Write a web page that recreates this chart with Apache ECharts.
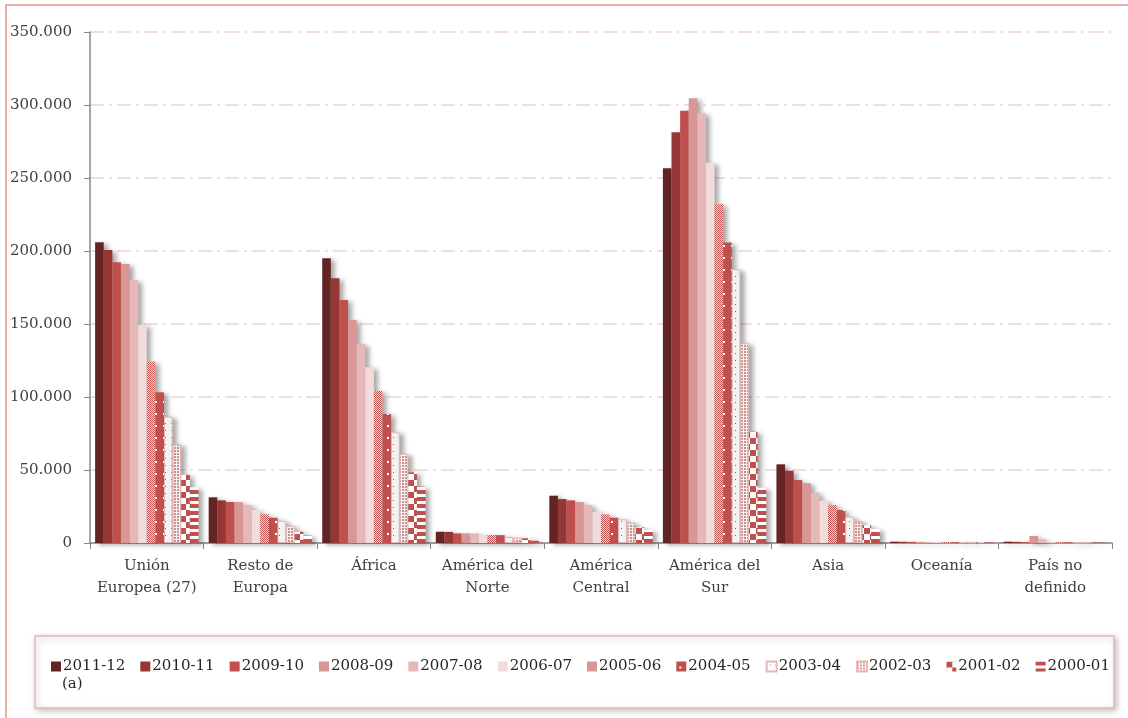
<!DOCTYPE html>
<html>
<head>
<meta charset="utf-8">
<script src="https://cdn.jsdelivr.net/npm/echarts@6/dist/echarts.min.js"></script>
<style>
  html, body { margin: 0; padding: 0; background: #fff; }
  #chart { width: 1128px; height: 718px; }
</style>
</head>
<body>
<div id="chart"></div>
<script>
  // categorias (regiones de origen)
  var categories = ["Unión\nEuropea (27)", "Resto de\nEuropa", "África", "América del\nNorte", "América\nCentral", "América del\nSur", "Asia", "Oceanía", "País no\ndefinido"];
  var seasons = ["2011-12", "2010-11", "2009-10", "2008-09", "2007-08", "2006-07", "2005-06", "2004-05", "2003-04", "2002-03", "2001-02", "2000-01"];
  var yTicks = [0, 50000, 100000, 150000, 200000, 250000, 300000, 350000];

  // valores por curso, en el orden de categories
  var v2011_12 = [206000, 31300, 195000, 7700, 32400, 256600, 53900, 900, 900];
  var v2010_11 = [200700, 29200, 181300, 7600, 30100, 281300, 49500, 850, 800];
  var v2009_10 = [192300, 28100, 166400, 6600, 29200, 296100, 43100, 800, 700];
  var v2008_09 = [191100, 28000, 152700, 6600, 28100, 304600, 40900, 750, 4800];
  var v2007_08 = [180100, 26000, 136300, 6500, 26000, 294300, 34500, 700, 2500];
  var v2006_07 = [149300, 22600, 120300, 5500, 21400, 260500, 29000, 650, 600];
  var v2005_06 = [124200, 19600, 104100, 5500, 19600, 232000, 26000, 600, 500];
  var v2004_05 = [103200, 17300, 88400, 5400, 17300, 205900, 22600, 550, 450];
  var v2003_04 = [86500, 15100, 75800, 4100, 16200, 187400, 18000, 500, 400];
  var v2002_03 = [67600, 11600, 61000, 3600, 13900, 136800, 15100, 450, 350];
  var v2001_02 = [46600, 7700, 48400, 3200, 10700, 76200, 12100, 400, 300];
  var v2000_01 = [38100, 5000, 38600, 1500, 8900, 37900, 9600, 350, 300];

  var allValues = [v2011_12, v2010_11, v2009_10, v2008_09, v2007_08, v2006_07,
                   v2005_06, v2004_05, v2003_04, v2002_03, v2001_02, v2000_01];

  var RED = "#C0504D";

  // tramas
  function pattern(w, h, draw) {
    var c = document.createElement("canvas");
    c.width = w; c.height = h;
    draw(c.getContext("2d"));
    return { image: c, repeat: "repeat" };
  }
  var pFine = pattern(2, 2, function (ctx) {
    ctx.fillStyle = "#F2DCDB"; ctx.fillRect(0, 0, 2, 2);
    ctx.fillStyle = RED; ctx.fillRect(0, 0, 1, 1); ctx.fillRect(1, 1, 1, 1);
  });
  var pRedDots = pattern(8, 12, function (ctx) {
    ctx.fillStyle = RED; ctx.fillRect(0, 0, 8, 12);
    ctx.fillStyle = "#fff"; ctx.fillRect(3, 5, 2, 2);
  });
  var pWhiteDots = pattern(6, 7, function (ctx) {
    ctx.fillStyle = "#fff"; ctx.fillRect(0, 0, 6, 7);
    ctx.fillStyle = RED; ctx.fillRect(3, 3, 1, 1);
  });
  var pPinkDots = pattern(3, 3, function (ctx) {
    ctx.fillStyle = "#fff"; ctx.fillRect(0, 0, 3, 3);
    ctx.fillStyle = "#D99694"; ctx.fillRect(0, 0, 2, 2);
  });
  var pChecker = pattern(12, 12, function (ctx) {
    ctx.fillStyle = "#fff"; ctx.fillRect(0, 0, 12, 12);
    ctx.fillStyle = RED; ctx.fillRect(0, 0, 6, 6); ctx.fillRect(6, 6, 6, 6);
  });
  var pStripes = pattern(4, 7, function (ctx) {
    ctx.fillStyle = "#fff"; ctx.fillRect(0, 0, 4, 7);
    ctx.fillStyle = RED; ctx.fillRect(0, 0, 4, 4);
  });

  var fills = ["#632523", "#953735", RED, "#D99694", "#E6B9B8", "#F2DCDB",
               pFine, pRedDots, pWhiteDots, pPinkDots, pChecker, pStripes];
  var borders = [null, null, null, null, null, null, null, null, "#E6B9B8", "#E6B9B8", null, null];

  var FONT = "DejaVu Serif";

  var series = seasons.map(function (name, i) {
    var st = {
      color: fills[i],
      shadowColor: "rgba(0,0,0,0.35)",
      shadowBlur: 5,
      shadowOffsetX: 4,
      shadowOffsetY: 2
    };
    if (borders[i]) { st.borderColor = borders[i]; st.borderWidth = 1; }
    return {
      name: name,
      type: "bar",
      data: allValues[i],
      barGap: "0%",
      barCategoryGap: "9%",
      itemStyle: st
    };
  });

  var chart = echarts.init(document.getElementById("chart"));
  chart.setOption({
    animation: false,
    textStyle: { fontFamily: FONT },
    grid: { left: 90, right: 16, top: 32, bottom: 175 },
    legend: {
      data: seasons,
      left: 46,
      top: 654,
      itemWidth: 10,
      itemHeight: 10,
      itemGap: 15,
      icon: "rect",
      textStyle: { fontFamily: FONT, fontSize: 15, color: "#262626", padding: [0, 0, 0, -3] }
    },
    xAxis: {
      type: "category",
      data: categories,
      axisLine: { lineStyle: { color: "#888", width: 1.5 } },
      axisTick: { show: true, length: 6, lineStyle: { color: "#888" } },
      axisLabel: { interval: 0, fontFamily: FONT, fontSize: 15, color: "#404040", lineHeight: 22, margin: 12 }
    },
    yAxis: {
      type: "value",
      min: yTicks[0],
      max: yTicks[yTicks.length - 1],
      interval: 50000,
      axisLine: { show: true, lineStyle: { color: "#888", width: 1.5 } },
      axisTick: { show: true, length: 6, lineStyle: { color: "#888" } },
      axisLabel: {
        fontFamily: FONT, fontSize: 15, color: "#404040", margin: 18,
        formatter: function (v) { return v === 0 ? "0" : (v / 1000).toFixed(3); }
      },
      splitLine: { lineStyle: { color: "#F0D4D3", width: 1.5, type: [14, 5, 3, 5] } }
    },
    graphic: [
      {
        type: "rect", silent: true, z: -10,
        shape: { x: 6, y: 5, width: 1200, height: 800 },
        style: { fill: null, stroke: "#EB938C", lineWidth: 1.5 }
      },
      {
        type: "rect", silent: true, z: -5,
        shape: { x: 35, y: 636, width: 1079, height: 72 },
        style: {
          fill: "#fff", stroke: "#E6B9B8", lineWidth: 1.5,
          shadowColor: "rgba(0,0,0,0.25)", shadowBlur: 6, shadowOffsetX: 2, shadowOffsetY: 2
        }
      },
      {
        type: "text", silent: true,
        left: 62, top: 677,
        style: { text: "(a)", font: "15px " + FONT, fill: "#262626" }
      }
    ],
    series: series
  });
</script>
</body>
</html>
